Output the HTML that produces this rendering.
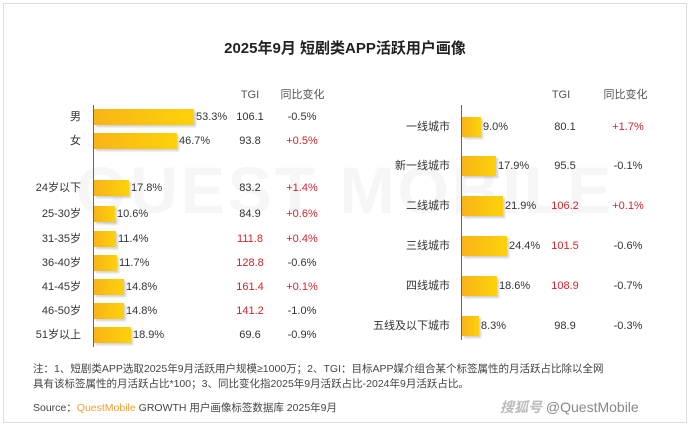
<!DOCTYPE html><html><head><meta charset="utf-8"><style>
body{margin:0;width:690px;height:424px;background:#fff;position:relative;overflow:hidden;font-family:"Liberation Sans","Noto Sans CJK SC",sans-serif;color:#333}
.a{position:absolute;white-space:nowrap;font-size:11px;line-height:14px}
.r{text-align:right}.c{text-align:center}
.bar{position:absolute;background:linear-gradient(90deg,#f9b417,#fdd20a);box-shadow:2px 2px 2px rgba(0,0,0,.18)}
.red{color:#d0262c}
</style></head><body>
<div style="position:absolute;left:3px;top:3px;width:682px;height:418px;border:1px solid #ddd"></div>
<div class="a c" style="left:0;width:690px;top:40px;font-size:15px;line-height:18px;font-weight:bold;color:#222">2025年9月 短剧类APP活跃用户画像</div>
<div class="a c" style="left:0;width:690px;top:150px;font-size:66px;line-height:80px;color:#f6f6f6;font-weight:bold;letter-spacing:3px">QUEST MOBILE</div>
<div style="position:absolute;left:93px;top:105px;width:1px;height:242px;background:#666"></div>
<div style="position:absolute;left:461px;top:105px;width:1px;height:235px;background:#666"></div>
<div class="a c" style="left:230px;width:40px;top:88px;color:#555">TGI</div>
<div class="a c" style="left:275px;width:55px;top:88px;color:#555">同比变化</div>
<div class="a c" style="left:541px;width:40px;top:88px;color:#555">TGI</div>
<div class="a c" style="left:598px;width:55px;top:88px;color:#555">同比变化</div>
<div id="L"></div><div id="R"></div>
<div class="a" style="left:33px;top:362px;font-size:10.5px;line-height:15px;color:#444">注：1、短剧类APP选取2025年9月活跃用户规模≥1000万；2、TGI：目标APP媒介组合某个标签属性的月活跃占比除以全网<br>具有该标签属性的月活跃占比*100；3、同比变化指2025年9月活跃占比-2024年9月活跃占比。</div>
<div class="a" style="left:33px;top:401px;font-size:10.5px;color:#444">Source：<span style="color:#f0a030">QuestMobile</span> GROWTH 用户画像标签数据库 2025年9月</div>
<div class="a" style="left:500px;top:398px;font-size:14px;line-height:18px;color:#888"><i style="color:#bbb;font-weight:bold">搜狐号</i> @QuestMobile</div>
<script>
var L=[["男",117,100,"53.3%","106.1",0,"-0.5%",0],["女",141,83,"46.7%","93.8",0,"+0.5%",1],["24岁以下",188,35,"17.8%","83.2",0,"+1.4%",1],["25-30岁",214,21,"10.6%","84.9",0,"+0.6%",1],["31-35岁",239,22,"11.4%","111.8",1,"+0.4%",1],["36-40岁",263,23,"11.7%","128.8",1,"-0.6%",0],["41-45岁",287,30,"14.8%","161.4",1,"+0.1%",1],["46-50岁",311,30,"14.8%","141.2",1,"-1.0%",0],["51岁以上",335,37,"18.9%","69.6",0,"-0.9%",0]];
var R=[["一线城市",127,19,"9.0%","80.1",0,"+1.7%",1],["新一线城市",166,34,"17.9%","95.5",0,"-0.1%",0],["二线城市",206,41,"21.9%","106.2",1,"+0.1%",1],["三线城市",246,45,"24.4%","101.5",1,"-0.6%",0],["四线城市",286,35,"18.6%","108.9",1,"-0.7%",0],["五线及以下城市",326,17,"8.3%","98.9",0,"-0.3%",0]];
function draw(d,ax,lr,bh,tc,cc){var h="";d.forEach(function(r){var y=r[1];
h+='<div class="a r" style="left:0;width:'+lr+'px;top:'+(y-7)+'px">'+r[0]+'</div>';
h+='<div class="bar" style="left:'+(ax+1)+'px;top:'+(y-bh/2)+'px;width:'+r[2]+'px;height:'+bh+'px"></div>';
h+='<div class="a" style="left:'+(ax+r[2]+3)+'px;top:'+(y-7)+'px">'+r[3]+'</div>';
h+='<div class="a c'+(r[5]?' red':'')+'" style="left:'+(tc-30)+'px;width:60px;top:'+(y-7)+'px">'+r[4]+'</div>';
h+='<div class="a c'+(r[7]?' red':'')+'" style="left:'+(cc-30)+'px;width:60px;top:'+(y-7)+'px">'+r[6]+'</div>';});return h;}
document.getElementById("L").innerHTML=draw(L,93,81,16,250,302);
document.getElementById("R").innerHTML=draw(R,461,450,20,565,628);
</script>
</body></html>
